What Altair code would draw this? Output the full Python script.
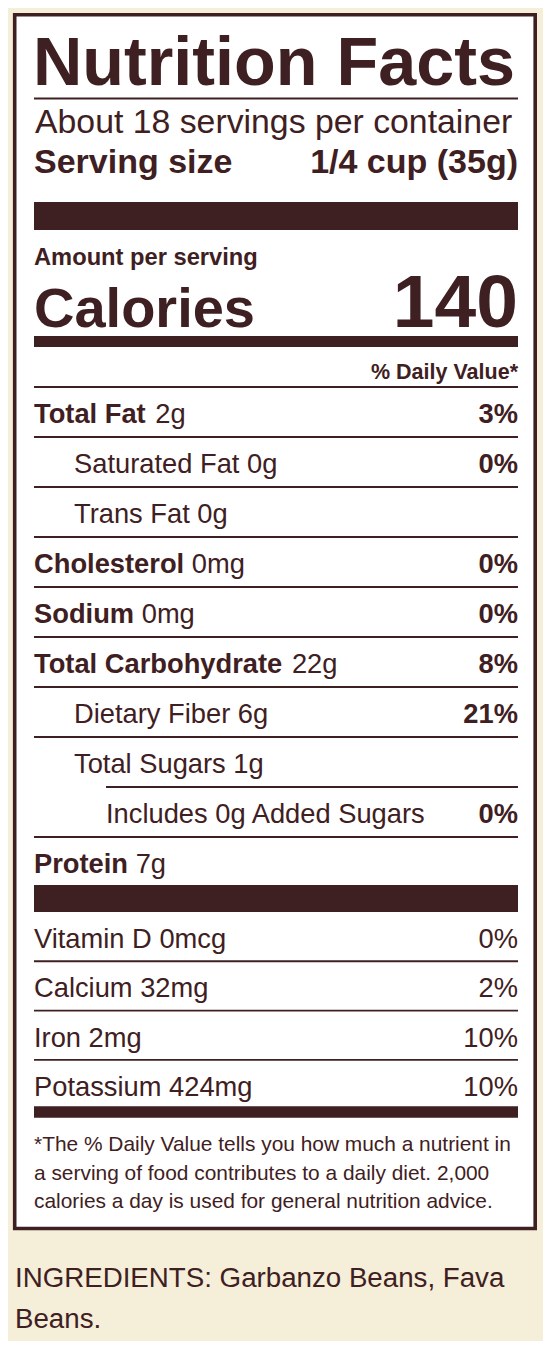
import altair as alt
import pandas as pd

# ---------------- label content ----------------
title = "Nutrition Facts"
servings_text = "About 18 servings per container"
serving_label = "Serving size"
serving_value = "1/4 cup (35g)"
amount_label = "Amount per serving"
calories_label = "Calories"
calories_value = "140"
dv_header = "% Daily Value*"

nutrients = ["Total Fat", "Saturated Fat", "Trans Fat", "Cholesterol", "Sodium",
             "Total Carbohydrate", "Dietary Fiber", "Total Sugars",
             "Includes 0g Added Sugars", "Protein"]
amounts = ["2g", "0g", "0g", "0mg", "0mg", "22g", "6g", "1g", "", "7g"]
daily_values = ["3%", "0%", "", "0%", "0%", "8%", "21%", "", "0%", ""]
levels = [0, 1, 1, 0, 0, 0, 1, 1, 2, 0]

minerals = ["Vitamin D", "Calcium", "Iron", "Potassium"]
mineral_amounts = ["0mcg", "32mg", "2mg", "424mg"]
mineral_dv = ["0%", "2%", "10%", "10%"]

footnote = ["*The % Daily Value tells you how much a nutrient in",
            "a serving of food contributes to a daily diet. 2,000",
            "calories a day is used for general nutrition advice."]
ingredients = ["INGREDIENTS: Garbanzo Beans, Fava", "Beans."]

# ---------------- layout / style ----------------
BROWN = "#3f2022"
CREAM = "#f5eed9"
FONT = "Liberation Sans"
W, H = 535, 1333
XS = alt.Scale(domain=[8, 8 + W], range=[0, W], nice=False, zero=False)
YS = alt.Scale(domain=[8, 8 + H], range=[0, H], nice=False, zero=False)

L, R = 34, 518
INDENT = {0: 34, 1: 74, 2: 106}
ROW_SIZE = 27.3
ROW_TOP = 387          # rule under "% Daily Value*"
ROW_PITCH = 50
MIN_TOP = 912          # bottom of thick bar above vitamins
MIN_PITCH = 49.3

# Liberation Sans Bold advance widths (1/1000 em) to place amounts after bold names
BOLD_W = {' ': 278, 'T': 611, 'o': 611, 't': 333, 'a': 556, 'l': 278, 'F': 611, 'C': 722,
          'h': 611, 'e': 556, 's': 556, 'r': 389, 'S': 667, 'd': 611, 'i': 278, 'u': 611,
          'm': 889, 'b': 611, 'y': 556, 'P': 667, 'n': 611}


def bold_width(s, size):
    return sum(BOLD_W.get(c, 600) for c in s) / 1000.0 * size


rects = []   # x, x2, y, y2
texts = {}   # (weight, align) -> list of rows


def add_text(key, x, y, label, size):
    if label:
        texts.setdefault(key, []).append({"x": x, "y": y, "label": label, "size": size})


def add_rule(x, x2, yc, t=1.9):
    rects.append({"x": x, "x2": x2, "y": yc - t / 2, "y2": yc + t / 2})


# header
add_text(("bold", "left"), 33, 85, title, 68.3)
add_rule(L, R, 98.5, 1.9)
add_text(("normal", "left"), 35, 133, servings_text, 33.8)
add_text(("bold", "left"), 34, 173, serving_label, 34)
add_text(("bold", "right"), R, 173, serving_value, 34)
rects.append({"x": L, "x2": R, "y": 202, "y2": 230})
add_text(("bold", "left"), 34, 265, amount_label, 23.7)
add_text(("bold", "left"), 34, 327, calories_label, 56)
add_text(("bold", "right"), R, 327, calories_value, 75)
rects.append({"x": L, "x2": R, "y": 336, "y2": 347})
add_text(("bold", "right"), R, 379, dv_header, 21.5)
add_rule(L, R, ROW_TOP)

# nutrient rows
for i, (name, amt, dv, lev) in enumerate(zip(nutrients, amounts, daily_values, levels)):
    base = ROW_TOP + ROW_PITCH * i + 36
    if i > 0:
        add_rule(INDENT[2] if lev == 2 else L, R, ROW_TOP + ROW_PITCH * i)
    if lev == 0:
        add_text(("bold", "left"), INDENT[0], base, name, ROW_SIZE)
        add_text(("normal", "left"), INDENT[0] + bold_width(name + " ", ROW_SIZE), base, amt, ROW_SIZE)
    else:
        add_text(("normal", "left"), INDENT[lev], base, (name + " " + amt).strip(), ROW_SIZE)
    add_text(("bold", "right"), R, base, dv, ROW_SIZE)

rects.append({"x": L, "x2": R, "y": 885, "y2": MIN_TOP})

for j, (name, amt, dv) in enumerate(zip(minerals, mineral_amounts, mineral_dv)):
    base = MIN_TOP + 36 + MIN_PITCH * j
    if j > 0:
        add_rule(L, R, MIN_TOP + MIN_PITCH * j)
    add_text(("normal", "left"), L, base, name + " " + amt, ROW_SIZE)
    add_text(("normal", "right"), R, base, dv, ROW_SIZE)

rects.append({"x": L, "x2": R, "y": MIN_TOP + MIN_PITCH * 4 - 3, "y2": MIN_TOP + MIN_PITCH * 4 + 8.5})

for k, line in enumerate(footnote):
    add_text(("normal", "left"), 34, 1151 + 28.5 * k, line, 20.9)

for k, line in enumerate(ingredients):
    add_text(("normal", "left"), 15, 1287 + 41 * k, line, 27.7)

# ---------------- chart ----------------
box_df = pd.DataFrame([{"x": 14.7, "x2": 535.2, "y": 14.7, "y2": 1228.5}])
box = alt.Chart(box_df).mark_rect(fill="white", stroke=BROWN, strokeWidth=3.6).encode(
    x=alt.X("x:Q", scale=XS, axis=None), x2="x2:Q",
    y=alt.Y("y:Q", scale=YS, axis=None), y2="y2:Q")

bars = alt.Chart(pd.DataFrame(rects)).mark_rect(color=BROWN).encode(
    x=alt.X("x:Q", scale=XS, axis=None), x2="x2:Q",
    y=alt.Y("y:Q", scale=YS, axis=None), y2="y2:Q")

layers = [box, bars]
for (weight, align), rows in texts.items():
    layers.append(
        alt.Chart(pd.DataFrame(rows)).mark_text(
            font=FONT, fontWeight=weight, align=align, baseline="alphabetic", color=BROWN
        ).encode(
            x=alt.X("x:Q", scale=XS, axis=None),
            y=alt.Y("y:Q", scale=YS, axis=None),
            text="label:N",
            size=alt.Size("size:Q", scale=None),
        )
    )

chart = alt.layer(*layers).properties(
    width=W, height=H, padding=0, autosize="none", background=CREAM
).configure_view(stroke=None)

chart.save("out.html", embed_options={"renderer": "svg", "actions": False})
